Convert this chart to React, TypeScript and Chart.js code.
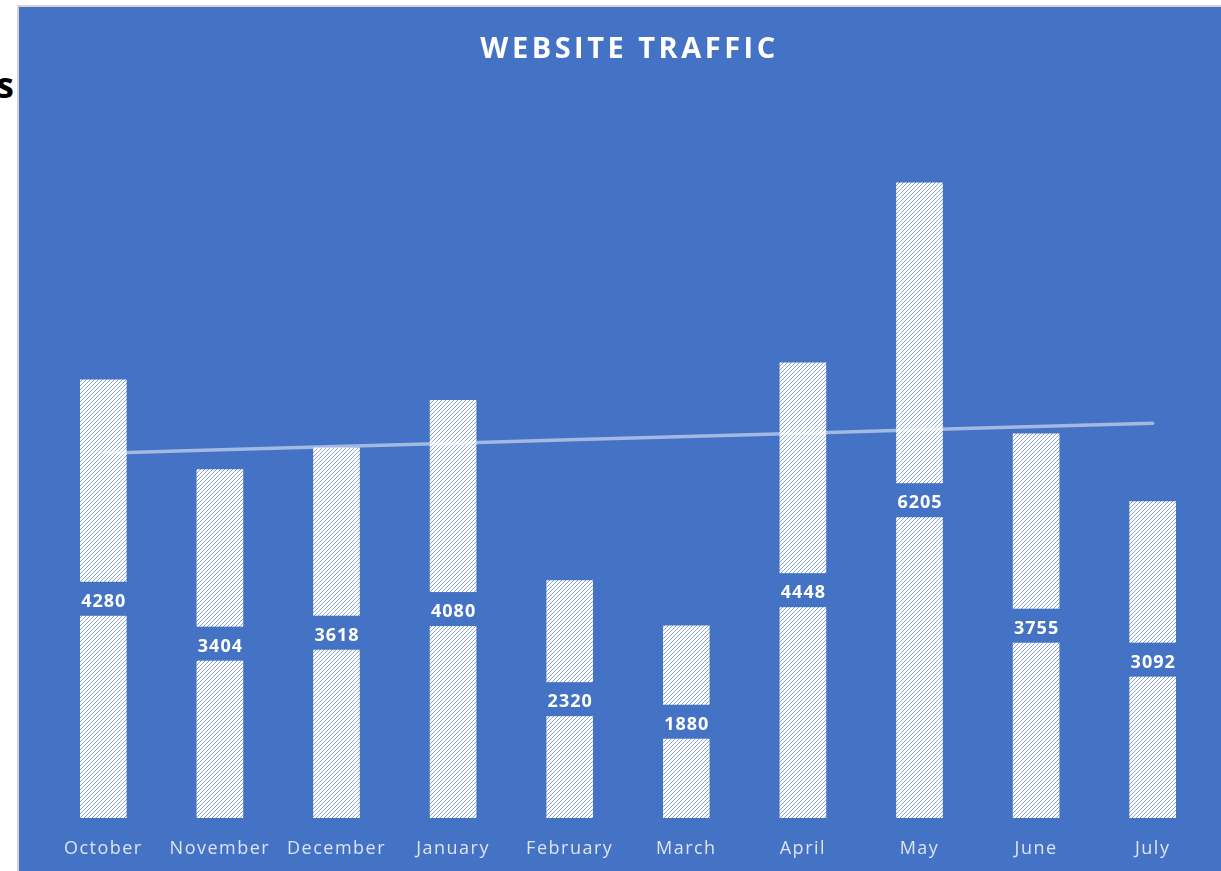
import React, { useEffect, useRef } from "react";
import { Chart, registerables } from "chart.js";

Chart.register(...registerables);

const chartTitle = "WEBSITE TRAFFIC";
const months = ["October", "November", "December", "January", "February", "March", "April", "May", "June", "July"];
const visits = [4280, 3404, 3618, 4080, 2320, 1880, 4448, 6205, 3755, 3092];
const yMin = 0;
const yMax = 7000;

const BG = "#4472C4";

// Linear trendline derived from the bar values (least squares), like the reference's trendline
function linearTrend(values: number[]): number[] {
  const n = values.length;
  const mx = (n - 1) / 2;
  const my = values.reduce((a, b) => a + b, 0) / n;
  let num = 0;
  let den = 0;
  values.forEach((v, i) => {
    num += (i - mx) * (v - my);
    den += (i - mx) * (i - mx);
  });
  const slope = num / den;
  return values.map((_, i) => my + slope * (i - mx));
}

function makePattern(ctx: CanvasRenderingContext2D): CanvasPattern | string {
  const c = document.createElement("canvas");
  c.width = 4;
  c.height = 4;
  const p = c.getContext("2d");
  if (!p) return "#ffffff";
  const img = p.createImageData(4, 4);
  for (let y = 0; y < 4; y++) {
    for (let x = 0; x < 4; x++) {
      const i = (y * 4 + x) * 4;
      const onLine = (x + y) % 4 === 3;
      const col = onLine ? [140, 168, 220] : [255, 255, 255];
      img.data[i] = col[0];
      img.data[i + 1] = col[1];
      img.data[i + 2] = col[2];
      img.data[i + 3] = 255;
    }
  }
  p.putImageData(img, 0, 0);
  return ctx.createPattern(c, "repeat") || "#ffffff";
}

const decorPlugin = {
  id: "decor",
  beforeDraw(chart: any) {
    chart.ctx.letterSpacing = "1.5px";
  },
  afterDatasetsDraw(chart: any) {
    const ctx = chart.ctx as CanvasRenderingContext2D;
    const meta = chart.getDatasetMeta(0);
    ctx.save();
    ctx.letterSpacing = "1px";
    meta.data.forEach((el: any, i: number) => {
      const w = el.width;
      const mid = (el.y + el.base) / 2;
      ctx.fillStyle = BG;
      ctx.fillRect(el.x - w / 2 - 1, mid - 17, w + 2, 34);
      ctx.fillStyle = "#ffffff";
      ctx.font = 'bold 18px "Open Sans"';
      ctx.textAlign = "center";
      ctx.textBaseline = "middle";
      ctx.fillText(String(visits[i]), el.x + 0.5, mid + 3);
    });
    ctx.restore();
  },
  afterDraw(chart: any) {
    const ctx = chart.ctx as CanvasRenderingContext2D;
    ctx.save();
    ctx.letterSpacing = "3.5px";
    ctx.fillStyle = "#ffffff";
    ctx.font = 'bold 29px "Open Sans"';
    ctx.textAlign = "center";
    ctx.textBaseline = "middle";
    ctx.fillText(chartTitle, chart.width / 2 + 1.5, 43);
    ctx.restore();
  },
};

export default function App() {
  const ref = useRef<HTMLCanvasElement | null>(null);

  useEffect(() => {
    const canvas = ref.current;
    if (!canvas) return;
    const ctx = canvas.getContext("2d");
    if (!ctx) return;
    const pattern = makePattern(ctx);
    const chart = new Chart(canvas, {
      type: "bar",
      data: {
        labels: months,
        datasets: [
          {
            type: "bar",
            label: "Visits",
            data: visits,
            backgroundColor: pattern as any,
            borderWidth: 0,
            barPercentage: 0.4,
            categoryPercentage: 1,
            order: 1,
          },
          {
            type: "line",
            label: "Trend",
            data: linearTrend(visits),
            borderColor: "rgba(255,255,255,0.5)",
            borderWidth: 3.5,
            borderCapStyle: "round",
            pointRadius: 0,
            fill: false,
            order: 0,
          } as any,
        ],
      },
      options: {
        animation: false,
        responsive: false,
        maintainAspectRatio: false,
        layout: { padding: { left: 26, right: 26, top: 94, bottom: 0 } },
        plugins: {
          legend: { display: false },
          title: { display: false },
          tooltip: { enabled: false },
        },
        scales: {
          x: {
            grid: { display: false, drawTicks: false },
            border: { display: false },
            ticks: {
              color: "#dde4f2",
              font: { family: "Open Sans", size: 18 },
              padding: 20,
              maxRotation: 0,
              autoSkip: false,
            },
            afterFit: (axis: any) => {
              axis.height = 53;
            },
          },
          y: { display: false, min: yMin, max: yMax },
        },
      },
      plugins: [decorPlugin],
    });
    return () => chart.destroy();
  }, []);

  return (
    <div style={{ position: "fixed", inset: 0, overflow: "hidden", background: "#ffffff" }}>
      <div
        style={{
          position: "absolute",
          right: "calc(100% - 14px)",
          top: 67,
          fontFamily: '"Open Sans", sans-serif',
          fontWeight: 700,
          fontSize: 35,
          lineHeight: 1,
          color: "#000000",
          whiteSpace: "nowrap",
        }}
      >
        Visits
      </div>
      <div
        style={{
          position: "absolute",
          left: 17,
          top: 5,
          borderLeft: "2px solid #d4d4d4",
          borderTop: "2px solid #d4d4d4",
          background: BG,
          width: 1218,
          height: 864,
        }}
      >
        <canvas ref={ref} width={1218} height={864} style={{ display: "block" }} />
      </div>
    </div>
  );
}
